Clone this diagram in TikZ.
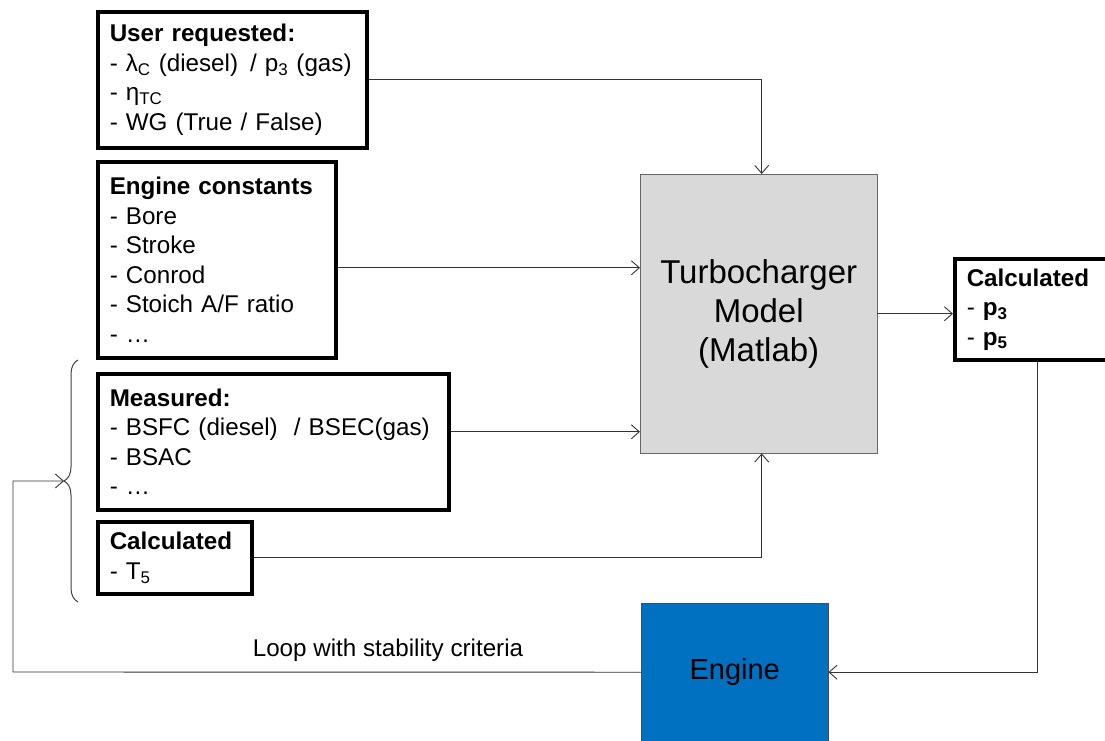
\documentclass[tikz,border=0pt]{standalone}
\usepackage{fontspec}
\setmainfont{Liberation Sans}
\usetikzlibrary{arrows.meta,decorations.pathreplacing}
\definecolor{modelgray}{RGB}{217,217,217}
\definecolor{engineblue}{RGB}{0,112,192}

\begin{document}
\begin{tikzpicture}[x=1pt,y=-1pt,font=\fontsize{24.2}{29.5}\selectfont,
  infobox/.style={draw,line width=3.5pt,anchor=north west,align=left,
                  inner xsep=12pt,inner ysep=0pt},
  flow/.style={-{Straight Barb[length=8pt,width=14pt]},line width=0.9pt,black!80}]
  \useasboundingbox (0,0) rectangle (1105,740);
  % inputs
  \node[infobox,text width=245pt,minimum height=136pt] (user) at (96,10)
       {\textbf{User requested:}\\\mbox{- λ\textsubscript{C} (diesel)\ \,/ p\textsubscript{3} (gas)}\\
        - η\textsubscript{TC}\\- WG (True / False)};
  \node[infobox,text width=214pt,minimum height=196pt] (consts) at (96,160)
       {\textbf{Engine constants}\\- Bore\\- Stroke\\- Conrod\\- Stoich A/F ratio\\- …};
  \node[infobox,text width=327pt,minimum height=136pt] (meas) at (96,372)
       {\textbf{Measured:}\\- BSFC (diesel)~~/ BSEC(gas)\\- BSAC\\- …};
  \node[infobox,text width=130pt,minimum height=72pt] (calcT) at (96,520)
       {\textbf{Calculated}\\- T\textsubscript{5}};
  % model and engine
  \node[draw=black!60,fill=modelgray,minimum width=237pt,minimum height=279pt,
        anchor=north west,align=center,font=\fontsize{33}{39}\selectfont] (turbo)
       at (640,174) {Turbocharger\\Model\\(Matlab)};
  \node[infobox,text width=150pt,minimum height=101pt] (calcP) at (953,257)
       {\textbf{Calculated}\\- \textbf{p\textsubscript{3}}\\- \textbf{p\textsubscript{5}}};
  \node[draw=black!70,fill=engineblue,minimum width=187pt,minimum height=138pt,
        anchor=north west,font=\fontsize{29}{34}\selectfont] (engine)
       at (641,603) {Engine};
  % connectors
  \draw[flow] (user.east) -| ([xshift=3pt]turbo.north);
  \draw[flow] ([yshift=-8pt]consts.east) -- ([yshift=-8pt]consts.east -| turbo.west);
  \draw[flow] ([yshift=10pt]meas.east) -- ([yshift=10pt]meas.east -| turbo.west);
  \draw[flow] (calcT.east) -| ([xshift=3pt]turbo.south);
  \draw[flow] (turbo.east) -- (turbo.east -| calcP.west);
  \draw[flow] ([xshift=-4pt]calcP.south) |- (engine.east);
  % loop back
  \coordinate (back) at (13,672);
  \coordinate (tip) at (64,481);
  \draw[black!75,line width=1pt,decorate,decoration={brace,amplitude=14pt}]
       (78,602) -- (78,360);
  \draw[flow] (engine.west) -- (back) |- (tip);
  \node (looplabel) at (388,650) {Loop with stability criteria};
\end{tikzpicture}
\end{document}
